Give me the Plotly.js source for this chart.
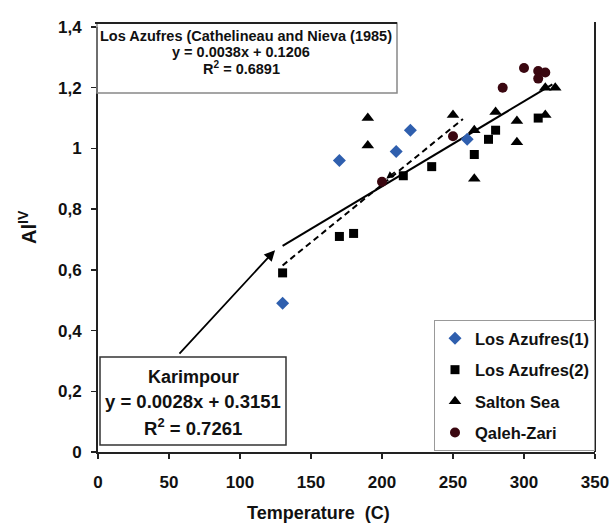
<!DOCTYPE html>
<html>
<head>
<meta charset="utf-8">
<script src="https://cdn.plot.ly/plotly-3.0.1.min.js"></script>
<style>html,body{margin:0;padding:0;background:#fff;}#chart{width:613px;height:527px;}</style>
</head>
<body>
<div id="chart"></div>
<script>
// ---- data ----
var seriesNames = ["Los Azufres(1)", "Los Azufres(2)", "Salton Sea", "Qaleh-Zari"];

var azufres1T = [130, 170, 210, 220, 260];
var azufres1A = [0.49, 0.96, 0.99, 1.06, 1.03];

var azufres2T = [130, 170, 180, 215, 235, 265, 275, 280, 310];
var azufres2A = [0.59, 0.71, 0.72, 0.91, 0.94, 0.98, 1.03, 1.06, 1.10];

var saltonT = [190, 190, 250, 265, 265, 280, 295, 295, 315, 315, 322];
var saltonA = [1.10, 1.01, 1.11, 1.06, 0.90, 1.12, 1.09, 1.02, 1.11, 1.20, 1.20];

var qalehT = [200, 250, 285, 300, 310, 315, 310];
var qalehA = [0.89, 1.04, 1.20, 1.265, 1.255, 1.25, 1.23];

// trend lines: slope, intercept, x-extent
var karimpourFit = [0.0028, 0.3151];
var karimpourRange = [130, 320];
var cathelFit = [0.0038, 0.1206];
var cathelRange = [130, 257];

var xTickVals = [0, 50, 100, 150, 200, 250, 300, 350];
var xTickText = ["0", "50", "100", "150", "200", "250", "300", "350"];
var yTickVals = [0, 0.2, 0.4, 0.6, 0.8, 1.0, 1.2, 1.4];
var yTickText = ["0", "0,2", "0,4", "0,6", "0,8", "1", "1,2", "1,4"];

// ---- helpers ----
function fitY(fit, xs) { return xs.map(function (x) { return fit[0] * x + fit[1]; }); }

var FONT = "Liberation Sans, Arial, sans-serif";
// plot area in pixels
var L = 98, R = 595, T = 27, B = 452;
function px(xp) { return (xp - L) / (R - L); }
function py(yp) { return (B - yp) / (B - T); }

var traces = [
  { x: karimpourRange, y: fitY(karimpourFit, karimpourRange), mode: "lines", type: "scatter",
    line: { color: "#000", width: 2 }, showlegend: false, hoverinfo: "skip" },
  { x: cathelRange, y: fitY(cathelFit, cathelRange), mode: "lines", type: "scatter",
    line: { color: "#000", width: 2, dash: "6px,4px" }, showlegend: false, hoverinfo: "skip" },
  { x: azufres1T, y: azufres1A, name: seriesNames[0], mode: "markers", type: "scatter", legendgroup: "a",
    marker: { symbol: "diamond", size: 10, color: "#2f5fae" } },
  { x: azufres2T, y: azufres2A, name: seriesNames[1], mode: "markers", type: "scatter", legendgroup: "b",
    marker: { symbol: "square", size: 9, color: "#000" } },
  { x: saltonT, y: saltonA, name: seriesNames[2], mode: "markers", type: "scatter", legendgroup: "c",
    marker: { symbol: "triangle-up", size: 11, color: "#000" } },
  { x: qalehT, y: qalehA, name: seriesNames[3], mode: "markers", type: "scatter", legendgroup: "d",
    marker: { symbol: "circle", size: 10, color: "#3a0710" } }
];

function txt(text, xp, yp, size) {
  return { text: text, xref: "paper", yref: "paper", x: px(xp), y: py(yp), xanchor: "center", yanchor: "middle",
    showarrow: false, font: { family: FONT, size: size, color: "#111", weight: "bold" } };
}

var annotations = [
  txt("Los Azufres (Cathelineau and Nieva (1985)", 246, 36, 14.5),
  txt("y = 0.0038x + 0.1206", 241, 52, 14.5),
  txt("R<sup>2</sup> = 0.6891", 241, 68, 14.5),
  txt("Karimpour", 193, 377, 18),
  txt("y = 0.0028x + 0.3151", 193, 401, 18.5),
  txt("R<sup>2</sup> = 0.7261", 193, 427, 18.5),
  // axis titles
  { text: "Temperature  (C)", xref: "paper", yref: "paper", x: px(318), y: py(513), xanchor: "center", yanchor: "middle",
    showarrow: false, font: { family: FONT, size: 18, color: "#111", weight: "bold" } },
  { text: "Al<sup>IV</sup>", xref: "paper", yref: "paper", x: px(27), y: py(227), xanchor: "center", yanchor: "middle",
    textangle: -90, showarrow: false, font: { family: FONT, size: 20, color: "#111", weight: "bold" } },
  // arrow from Karimpour box to the solid line
  { text: "", x: 124.7, y: 0.665, xref: "x", yref: "y", showarrow: true, arrowhead: 2, arrowsize: 1.2,
    arrowwidth: 1.8, arrowcolor: "#000", ax: -97, ay: 105, standoff: 0 },
  // small arrowhead on the dashed line
  { text: "", x: 203, y: 0.90, xref: "x", yref: "y", showarrow: true, arrowhead: 2, arrowsize: 1,
    arrowwidth: 1.5, arrowcolor: "#000", ax: 10, ay: -8, standoff: 0 }
];

var shapes = [
  { type: "rect", xref: "paper", yref: "paper", x0: px(97), x1: px(397), y0: py(93), y1: py(23),
    line: { color: "#888", width: 1.5 }, fillcolor: "rgba(255,255,255,0)", layer: "above" },
  { type: "line", xref: "paper", yref: "paper", x0: px(95), x1: px(397), y0: py(23), y1: py(23),
    line: { color: "#222", width: 2 } },
  { type: "rect", xref: "paper", yref: "paper", x0: px(100), x1: px(286), y0: py(445), y1: py(357),
    line: { color: "#333", width: 1.5 }, fillcolor: "rgba(255,255,255,0)", layer: "above" },
  { type: "line", xref: "paper", yref: "paper", x0: 1, x1: 1, y0: 0, y1: py(22),
    line: { color: "#222", width: 2 } }
];

var layout = {
  width: 613, height: 527,
  margin: { l: L, r: 613 - R, t: T, b: 527 - B, pad: 0 },
  paper_bgcolor: "#fff", plot_bgcolor: "#fff",
  showlegend: true,
  legend: { x: 1, xanchor: "right", y: py(320), yanchor: "top", bgcolor: "#fff",
    bordercolor: "#999", borderwidth: 1, tracegroupgap: 7,
    font: { family: FONT, size: 16.5, color: "#111", weight: "bold" }, itemwidth: 30 },
  xaxis: { range: [0, 350], tickvals: xTickVals, ticktext: xTickText, showgrid: false, zeroline: false,
    showline: true, linecolor: "#222", linewidth: 2, ticks: "outside", ticklen: 5, tickwidth: 1.5, tickcolor: "#222",
    ticklabelstandoff: 9,
    tickfont: { family: FONT, size: 17, color: "#111", weight: "bold" }, fixedrange: true },
  yaxis: { range: [0, 1.4], tickvals: yTickVals, ticktext: yTickText, showgrid: false, zeroline: false,
    showline: true, linecolor: "#222", linewidth: 2, ticks: "outside", ticklen: 5, tickwidth: 1.5, tickcolor: "#222",
    ticklabelstandoff: 6,
    tickfont: { family: FONT, size: 17, color: "#111", weight: "bold" }, fixedrange: true },
  annotations: annotations,
  shapes: shapes
};

Plotly.newPlot("chart", traces, layout, { displayModeBar: false, staticPlot: true });
</script>
</body>
</html>
